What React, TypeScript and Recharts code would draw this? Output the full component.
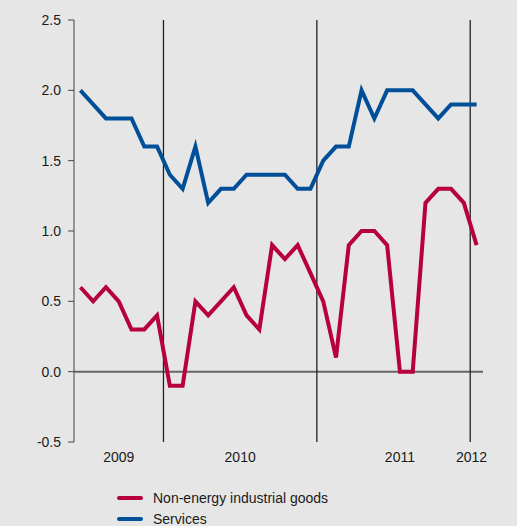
import { CartesianGrid, Legend, Line, LineChart, ReferenceLine, XAxis, YAxis } from "recharts";

// monthly, Jun 2009 .. Jan 2012
const MONTHS = [
  "2009-06", "2009-07", "2009-08", "2009-09", "2009-10", "2009-11", "2009-12",
  "2010-01", "2010-02", "2010-03", "2010-04", "2010-05", "2010-06",
  "2010-07", "2010-08", "2010-09", "2010-10", "2010-11", "2010-12",
  "2011-01", "2011-02", "2011-03", "2011-04", "2011-05", "2011-06",
  "2011-07", "2011-08", "2011-09", "2011-10", "2011-11", "2011-12",
  "2012-01",
];

const GOODS = [
  0.6, 0.5, 0.6, 0.5, 0.3, 0.3, 0.4,
  -0.1, -0.1, 0.5, 0.4, 0.5, 0.6, 0.4, 0.3, 0.9, 0.8, 0.9, 0.7,
  0.5, 0.1, 0.9, 1.0, 1.0, 0.9, 0.0, 0.0, 1.2, 1.3, 1.3, 1.2,
  0.9,
];

const SERVICES = [
  2.0, 1.9, 1.8, 1.8, 1.8, 1.6, 1.6,
  1.4, 1.3, 1.6, 1.2, 1.3, 1.3, 1.4, 1.4, 1.4, 1.4, 1.3, 1.3,
  1.5, 1.6, 1.6, 2.0, 1.8, 2.0, 2.0, 2.0, 1.9, 1.8, 1.9, 1.9,
  1.9,
];

const Y_TICKS = [-0.5, 0, 0.5, 1.0, 1.5, 2.0, 2.5];
const YEAR_TICKS = [3, 12.5, 25, 30.6];
const YEAR_LABELS = ["2009", "2010", "2011", "2012"];
const YEAR_BREAKS = [6.5, 18.5, 30.5];

const RED = "#b70040";
const BLUE = "#004f98";

const data = MONTHS.map((m, i) => ({ i, month: m, goods: GOODS[i], services: SERVICES[i] }));

const SERIES = [
  { key: "goods", name: "Non-energy industrial goods", color: RED },
  { key: "services", name: "Services", color: BLUE },
];

function LegendBox() {
  return (
    <div>
      {SERIES.map((s) => (
        <div key={s.key} style={{ display: "flex", alignItems: "center", height: 21 }}>
          <span style={{ display: "inline-block", width: 26, height: 4, borderRadius: 2, background: s.color, marginRight: 10 }} />
          <span style={{ fontSize: 14, color: "#1a1a1a" }}>{s.name}</span>
        </div>
      ))}
    </div>
  );
}

export default function App() {
  if (typeof document !== "undefined") document.body.style.margin = "0";

  return (
    <div style={{ width: 517, height: 526, background: "#e6e6e6", fontFamily: "'Liberation Sans', Arial, sans-serif" }}>
      <LineChart width={517} height={526} data={data} margin={{ top: 20, right: 34, bottom: 54, left: 0 }}>
        <CartesianGrid stroke="none" />
        <XAxis
          dataKey="i"
          type="number"
          domain={[-0.5, 31.5]}
          ticks={YEAR_TICKS}
          tickFormatter={(v) => YEAR_LABELS[YEAR_TICKS.indexOf(v)] ?? ""}
          axisLine={false}
          tickLine={false}
          height={30}
          tickMargin={4}
          tick={{ fontSize: 14, fill: "#1a1a1a" }}
        />
        <YAxis
          type="number"
          domain={[-0.5, 2.5]}
          ticks={Y_TICKS}
          tickFormatter={(v) => v.toFixed(1)}
          width={74}
          tickSize={6}
          tickMargin={7}
          stroke="#444"
          tick={{ fontSize: 14, fill: "#1a1a1a" }}
        />
        <ReferenceLine y={0} stroke="#666" strokeWidth={2} />
        {YEAR_BREAKS.map((x) => (
          <ReferenceLine key={x} x={x} stroke="#222" strokeWidth={1.3} />
        ))}
        {SERIES.map((s) => (
          <Line
            key={s.key}
            dataKey={s.key}
            name={s.name}
            stroke={s.color}
            strokeWidth={4}
            dot={false}
            activeDot={false}
            isAnimationActive={false}
          />
        ))}
        <Legend
          layout="horizontal"
          verticalAlign="middle"
          align="center"
          content={() => <LegendBox />}
          wrapperStyle={{ position: "absolute", top: 487, left: 117, width: 300, height: 42 }}
        />
      </LineChart>
    </div>
  );
}
